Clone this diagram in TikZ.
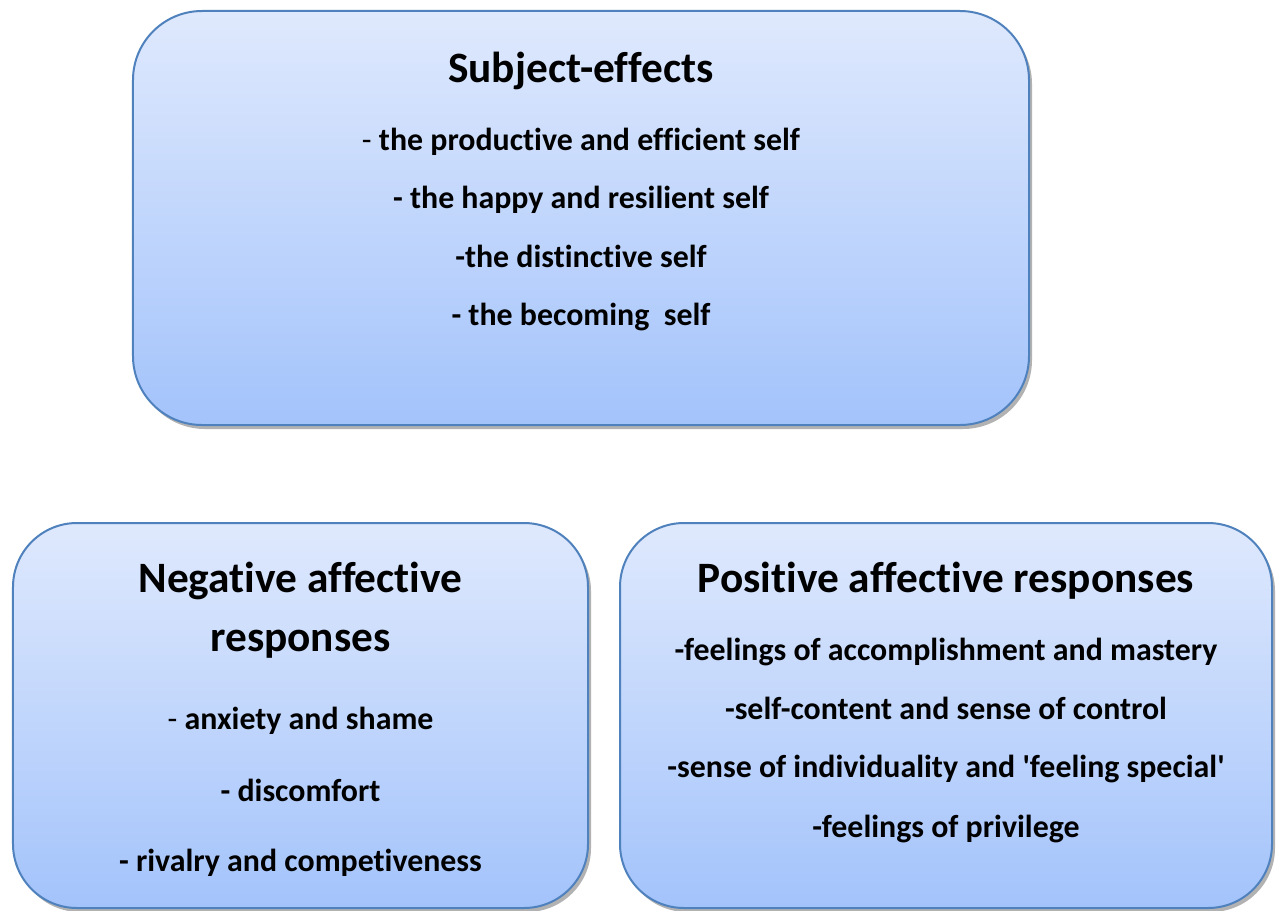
\documentclass[tikz,border=0pt]{standalone}
\usepackage{fontspec}
\setmainfont{Carlito}[Ligatures={NoCommon}]
\usetikzlibrary{shadows}
\definecolor{edgeblue}{HTML}{4F81BD}
\definecolor{filltop}{HTML}{DFE9FD}
\definecolor{fillbot}{HTML}{A3C3FB}
\tikzset{
  panel/.style={draw=edgeblue, line width=2bp, top color=filltop, bottom color=fillbot,
    drop shadow={shadow xshift=3bp, shadow yshift=-4bp, fill=black, opacity=0.3},
    inner sep=0pt},
  heading/.style={font=\fontsize{43.5}{50}\selectfont\bfseries, inner sep=0pt, anchor=base},
  entry/.style={font=\fontsize{32}{38}\selectfont\bfseries, inner sep=0pt, anchor=base},
}
\begin{document}
\begin{tikzpicture}[x=1bp,y=-1bp]
\useasboundingbox (0,0) rectangle (1280,911);
% three rounded panels
\node[panel, rounded corners=69bp, minimum width=896bp, minimum height=414bp] (subj) at (581,218) {};
\node[panel, rounded corners=64bp, minimum width=575bp, minimum height=385bp] (neg) at (300.5,715.5) {};
\node[panel, rounded corners=64bp, minimum width=652bp, minimum height=385bp] (pos) at (946,715.5) {};
% subject-effects
\node[heading] (subjT) at (581,82) {Subject-effects};
\node[entry] (subj1) at (581,150) {\mdseries-\bfseries{} the productive and efficient self};
\node[entry] (subj2) at (581,208) {- the happy and resilient self};
\node[entry] (subj3) at (581,267) {-the distinctive self};
\node[entry] (subj4) at (581,325) {- the becoming\ \ self};
% negative responses
\node[heading] (negT1) at (300.5,592) {Negative affective};
\node[heading] (negT2) at (300.5,651) {responses};
\node[entry] (neg1) at (300.5,729) {\mdseries-\bfseries{} anxiety and shame};
\node[entry] (neg2) at (300.5,801) {- discomfort};
\node[entry] (neg3) at (300.5,871) {- rivalry and competiveness};
% positive responses
\node[heading] (posT) at (946,592) {Positive affective responses};
\node[entry] (pos1) at (946,660) {-feelings of accomplishment and mastery};
\node[entry] (pos2) at (946,719) {-self-content and sense of control};
\node[entry] (pos3) at (946,777) {-sense of individuality and \textquotesingle feeling special\textquotesingle};
\node[entry] (pos4) at (946,837) {-feelings of privilege};
\end{tikzpicture}
\end{document}
